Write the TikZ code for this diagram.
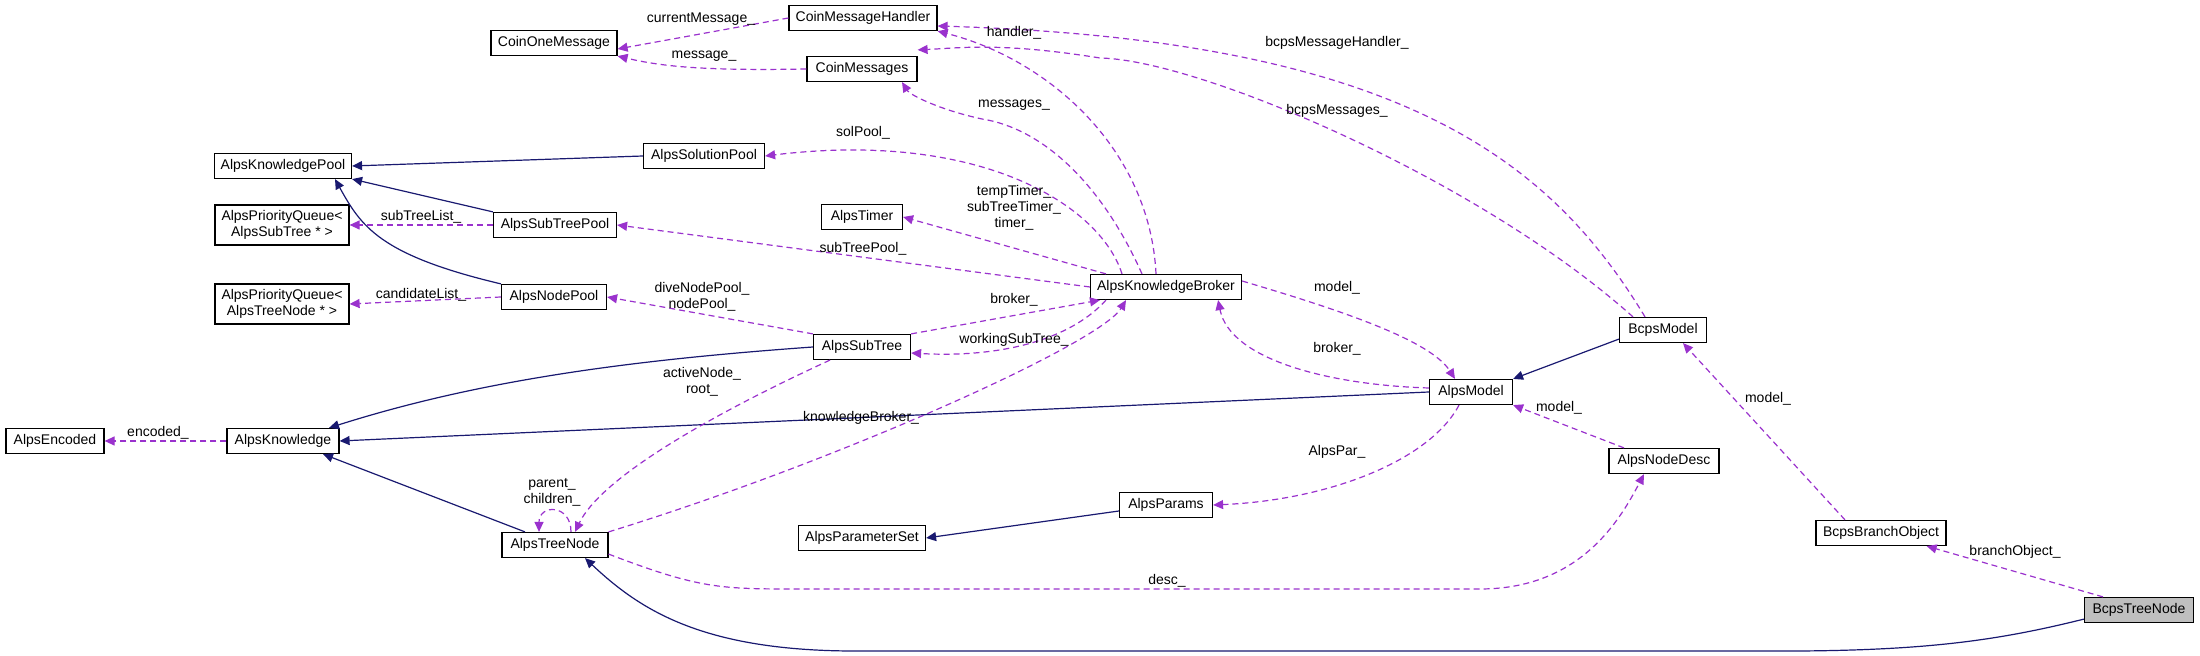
\documentclass[tikz,border=0pt]{standalone}
\usepackage{fontspec}
\setmainfont{Liberation Sans}
\usetikzlibrary{arrows.meta}
\definecolor{navy}{HTML}{191970}
\definecolor{purp}{HTML}{9A32CD}
\begin{document}
\begin{tikzpicture}[x=0.5pt,y=-0.5pt,
  box/.style={draw, line width=0.6pt, minimum height=12.5pt, inner sep=1pt, font=\fontsize{7}{8}\selectfont, align=center},
  lbl/.style={font=\fontsize{7}{8}\selectfont, align=center, inner sep=0pt},
  inh/.style={draw=navy, line width=0.6pt, -{Triangle[length=5pt,width=4.5pt]}, color=navy},
  dep/.style={draw=purp, line width=0.6pt, dash pattern=on 3pt off 2pt, -{Triangle[length=5pt,width=4.5pt]}, color=purp}]
\useasboundingbox (0,0) rectangle (2200,656);
\node[box, minimum width=74pt] (cmh) at (863,18) {CoinMessageHandler};
\node[box, minimum width=63pt] (com) at (554,43) {CoinOneMessage};
\node[box, minimum width=55pt] (cm) at (862,69) {CoinMessages};
\node[box, minimum width=68.5pt] (akp) at (283,166) {AlpsKnowledgePool};
\node[box, minimum width=60.5pt] (asp) at (704,156) {AlpsSolutionPool};
\node[box, minimum width=67pt, minimum height=20pt] (pq1) at (282,225) {AlpsPriorityQueue<\\AlpsSubTree * >};
\node[box, minimum width=61.5pt] (astp) at (555,225) {AlpsSubTreePool};
\node[box, minimum width=40.5pt] (tim) at (862,217) {AlpsTimer};
\node[box, minimum width=67pt, minimum height=20pt] (pq2) at (282,304) {AlpsPriorityQueue<\\AlpsTreeNode * >};
\node[box, minimum width=52.5pt] (anp) at (554,297) {AlpsNodePool};
\node[box, minimum width=48.5pt] (ast) at (862,347) {AlpsSubTree};
\node[box, minimum width=49pt] (aenc) at (55,441) {AlpsEncoded};
\node[box, minimum width=56pt] (ak) at (283,441) {AlpsKnowledge};
\node[box, minimum width=53pt] (atn) at (555,545) {AlpsTreeNode};
\node[box, minimum width=63.5pt] (aps) at (862,538) {AlpsParameterSet};
\node[box, minimum width=75.5pt] (akb) at (1166,287) {AlpsKnowledgeBroker};
\node[box, minimum width=41.5pt] (am) at (1471,392) {AlpsModel};
\node[box, minimum width=43.5pt] (bm) at (1663,330) {BcpsModel};
\node[box, minimum width=46.5pt] (ap) at (1166,505) {AlpsParams};
\node[box, minimum width=55pt] (and) at (1664,461) {AlpsNodeDesc};
\node[box, minimum width=65pt] (bbo) at (1881,533) {BcpsBranchObject};
\node[box, minimum width=54.5pt, fill=black!25] (btn) at (2139,610) {BcpsTreeNode};

% inheritance
\draw[inh] (asp.west) -- (akp.east);
\draw[inh] (astp.north west) -- (akp.south east);
\draw[inh] (anp.north west) .. controls (379,255) and (361,226) .. ([xshift=26pt]akp.south);
\draw[inh] (ast.west) .. controls (631,360) and (480,380) .. ([xshift=23pt]ak.north);
\draw[inh] (am.west) -- (ak.east);
\draw[inh] ([xshift=-15pt]atn.north) -- ([xshift=20pt]ak.south);
\draw[inh] ([yshift=2pt]bm.south west) -- (am.north east);
\draw[inh] ([yshift=-3pt]ap.west) -- (aps.east);
\draw[inh] ([yshift=2pt]btn.south west) .. controls (2000,640) and (1930,650) .. (1800,651) -- (850,651) .. controls (702,650) and (640,610) .. ([xshift=15pt]atn.south);

% dependencies
\draw[dep] (cmh.west) -- ([yshift=-3pt]com.east);
\draw[dep] (cm.west) .. controls (700,71) and (660,66) .. (com.south east);
\draw[dep] ([xshift=-5pt]akb.north) .. controls (1150,150) and (1050,60) .. (cmh.south east);
\draw[dep] ([xshift=-12pt]akb.north) .. controls (1100,180) and (1040,128) .. (982,119) .. controls (940,110) and (910,95) .. ([xshift=20pt]cm.south);
\draw[dep] ([xshift=-22pt]akb.north) .. controls (1100,205) and (980,130) .. (asp.east);
\draw[dep] ([xshift=-30pt]akb.north) -- (tim.east);
\draw[dep] (akb.west) -- (astp.east);
\draw[dep] (astp.west) -- (pq1.east);
\draw[dep] (anp.west) -- (pq2.east);
\draw[dep] (ast.north west) -- (anp.east);
\draw[dep] (ast.north east) -- ([xshift=-33pt]akb.south);
\draw[dep] ([xshift=-30pt]akb.south) .. controls (1070,340) and (1000,358) .. ([yshift=-3pt]ast.east);
\draw[dep] ([xshift=-16pt]ast.south) .. controls (700,420) and (600,480) .. ([xshift=10pt]atn.north);
\draw[dep] (atn.north east) .. controls (842,460) and (1100,343) .. ([xshift=-20pt]akb.south);
\draw[dep] (ak.west) -- (aenc.east);
\draw[dep] ([xshift=8pt]atn.north) .. controls +(0,14pt) and +(0,14pt) .. ([xshift=-8pt]atn.north);
\draw[dep] ([yshift=3pt]akb.east) .. controls (1340,310) and (1430,340) .. ([xshift=-8pt]am.north);
\draw[dep] ([yshift=2pt]am.west) .. controls (1330,385) and (1230,360) .. ([xshift=-12pt]akb.south east);
\draw[dep] ([xshift=-6pt]am.south) .. controls (1430,460) and (1330,500) .. (ap.east);
\draw[dep] ([xshift=-20pt]and.north) -- (am.south east);
\draw[dep] ([yshift=2pt]atn.south east) .. controls (700,589) and (720,589) .. (800,589) -- (1480,589) .. controls (1580,589) and (1620,520) .. ([xshift=-10pt]and.south);
\draw[dep] ([xshift=-9pt]bm.north) .. controls (1550,160) and (1400,40) .. ([yshift=-4pt]cmh.east);
\draw[dep] ([xshift=-15pt]bm.north) .. controls (1480,180) and (1200,60) .. (1100,58) .. controls (1000,42) and (960,48) .. ([yshift=3pt]cm.north east);
\draw[dep] ([xshift=-18pt]bbo.north) -- ([xshift=10pt]bm.south);
\draw[dep] ([xshift=-18pt]btn.north) -- ([xshift=-10pt]bbo.south east);

% labels
\node[lbl] (l1) at (701,19) {currentMessage\_};
\node[lbl] (l2) at (704,56) {message\_};
\node[lbl] (l3) at (1014,33) {handler\_};
\node[lbl] (l4) at (1014,105) {messages\_};
\node[lbl] (l5) at (863,133) {solPool\_};
\node[lbl] (l6) at (1014,208) {tempTimer\_\\subTreeTimer\_\\timer\_};
\node[lbl] (l7) at (863,249) {subTreePool\_};
\node[lbl] (l8) at (421,217) {subTreeList\_};
\node[lbl] (l9) at (421,295) {candidateList\_};
\node[lbl] (l10) at (702,297) {diveNodePool\_\\nodePool\_};
\node[lbl] (l11) at (1014,300) {broker\_};
\node[lbl] (l12) at (1014,340) {workingSubTree\_};
\node[lbl] (l13) at (702,382) {activeNode\_\\root\_};
\node[lbl] (l14) at (861,418) {knowledgeBroker\_};
\node[lbl] (l15) at (158,433) {encoded\_};
\node[lbl] (l16) at (552,492) {parent\_\\children\_};
\node[lbl] (l17) at (1337,43) {bcpsMessageHandler\_};
\node[lbl] (l18) at (1337,111) {bcpsMessages\_};
\node[lbl] (l19) at (1337,288) {model\_};
\node[lbl] (l20) at (1337,349) {broker\_};
\node[lbl] (l21) at (1337,452) {AlpsPar\_};
\node[lbl] (l22) at (1559,408) {model\_};
\node[lbl] (l23) at (1768,399) {model\_};
\node[lbl] (l24) at (1167,581) {desc\_};
\node[lbl] (l25) at (2015,552) {branchObject\_};
\end{tikzpicture}
\end{document}
